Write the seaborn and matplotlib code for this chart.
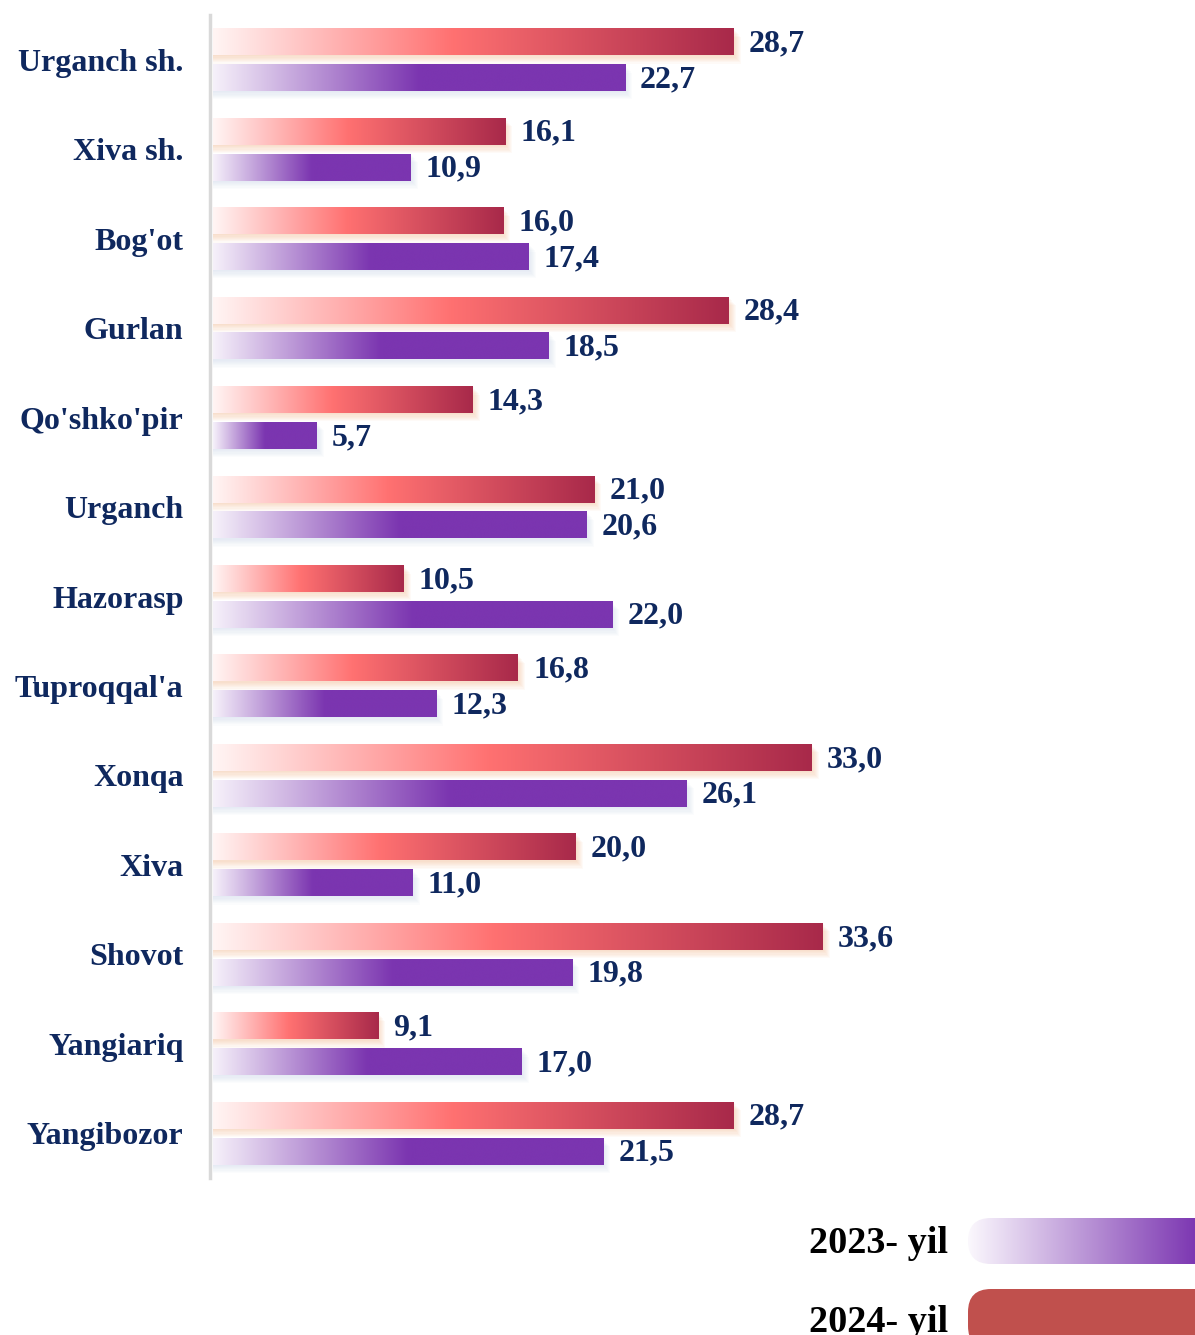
import numpy as np
import pandas as pd
import matplotlib
matplotlib.use("Agg")
import matplotlib.pyplot as plt
from matplotlib.colors import LinearSegmentedColormap
from matplotlib.patches import Rectangle, FancyBboxPatch
import seaborn as sns

regions = ["Urganch sh.", "Xiva sh.", "Bog'ot", "Gurlan", "Qo'shko'pir", "Urganch",
           "Hazorasp", "Tuproqqal'a", "Xonqa", "Xiva", "Shovot", "Yangiariq", "Yangibozor"]
vals_2024 = [28.7, 16.1, 16.0, 28.4, 14.3, 21.0, 10.5, 16.8, 33.0, 20.0, 33.6, 9.1, 28.7]
vals_2023 = [22.7, 10.9, 17.4, 18.5, 5.7, 20.6, 22.0, 12.3, 26.1, 11.0, 19.8, 17.0, 21.5]
years = ["2024", "2023"]
legend_labels = ["2023- yil", "2024- yil"]

df = pd.DataFrame({
    "region": regions * 2,
    "year": ["2024"] * len(regions) + ["2023"] * len(regions),
    "value": vals_2024 + vals_2023,
})

NAVY = "#0f285e"
FONT = "Liberation Serif"

red_cmap = LinearSegmentedColormap.from_list("red", [(0, "#fff5f4"), (0.46, "#ff7171"), (1, "#a8294a")])
purple_cmap = LinearSegmentedColormap.from_list("pur", [(0, "#f6f1fa"), (0.5, "#7b35b0"), (1, "#7b35b0")])
legend_cmap = LinearSegmentedColormap.from_list("leg", ["#fbf8fd", "#7d38b2"])
cmaps = {"2024": red_cmap, "2023": purple_cmap}
shadows = {"2024": "#f6a56e", "2023": "#b9c9e6"}

sns.set_theme(style="white")
plt.rcParams["font.family"] = [FONT, "DejaVu Serif"]

fig = plt.figure(figsize=(11.95, 13.35), dpi=100)
ax = fig.add_axes([210 / 1195, 1 - 1178 / 1335, 985 / 1195, (1178 - 15) / 1335])

sns.barplot(data=df, y="region", x="value", hue="year", hue_order=years, order=regions,
            orient="h", width=0.8, gap=0.25, palette=["#c0504d", "#7b35b0"],
            legend=False, ax=ax)

grad = np.linspace(0, 1, 256).reshape(1, -1)
px_x = 1 / 18.15   # data units per pixel, x
px_y = 1 / 89.7    # data units per pixel, y

for year, cont in zip(years, ax.containers):
    for patch, v in zip(cont.patches, cont.datavalues):
        x0, y0 = patch.get_x(), patch.get_y()
        w, h = patch.get_width(), patch.get_height()
        # soft shadow under the bar
        for i in range(1, 8):
            ax.add_patch(Rectangle((x0, y0 + i * 1.2 * px_y), w + i * px_x, h,
                                   color=shadows[year], alpha=0.055, lw=0, zorder=1))
        ax.imshow(grad, cmap=cmaps[year], aspect="auto", interpolation="bicubic",
                  extent=[x0, x0 + w, y0 + h, y0], zorder=3)
        patch.set_facecolor("none")
        patch.set_edgecolor("none")
        ax.text(x0 + w + 15 * px_x, y0 + h / 2 + 2 * px_y, f"{v:.1f}".replace(".", ","),
                ha="left", va="center", fontsize=23, fontweight="bold",
                color=NAVY, fontfamily=FONT, zorder=4)

ax.set_xlim(-0.17, 54.1)
ax.set_ylim(len(regions) - 0.5, -0.5)
ax.set_xlabel("")
ax.set_ylabel("")
ax.set_xticks([])
ax.tick_params(axis="y", length=0, pad=19)
for lab in ax.get_yticklabels():
    lab.set_fontsize(23)
    lab.set_fontweight("bold")
    lab.set_color(NAVY)
    lab.set_fontfamily(FONT)
for s in ["top", "right", "bottom"]:
    ax.spines[s].set_visible(False)
ax.spines["left"].set_color("#d9d9d9")
ax.spines["left"].set_linewidth(2.5)

# legend drawn in pixel coordinates
lg = fig.add_axes([0, 0, 1, 1])
lg.set_xlim(0, 1195)
lg.set_ylim(1335, 0)
lg.axis("off")
lg.patch.set_alpha(0)

pill1 = FancyBboxPatch((968, 1218), 280, 46, boxstyle="round,pad=0,rounding_size=23",
                       facecolor="none", edgecolor="none")
lg.add_patch(pill1)
im = lg.imshow(grad, cmap=legend_cmap, aspect="auto", interpolation="bicubic",
               extent=[968, 1195, 1264, 1218])
im.set_clip_path(pill1)
pill2 = FancyBboxPatch((968, 1289), 280, 60, boxstyle="round,pad=0,rounding_size=23",
                       facecolor="#c0504d", edgecolor="none")
lg.add_patch(pill2)
lg.set_xlim(0, 1195)
lg.set_ylim(1335, 0)

lg.text(948, 1253, legend_labels[0], ha="right", va="baseline", fontsize=27.5,
        fontweight="bold", color="black", fontfamily=FONT)
lg.text(948, 1332, legend_labels[1], ha="right", va="baseline", fontsize=27.5,
        fontweight="bold", color="black", fontfamily=FONT)

fig.savefig("out.png", dpi=100)
